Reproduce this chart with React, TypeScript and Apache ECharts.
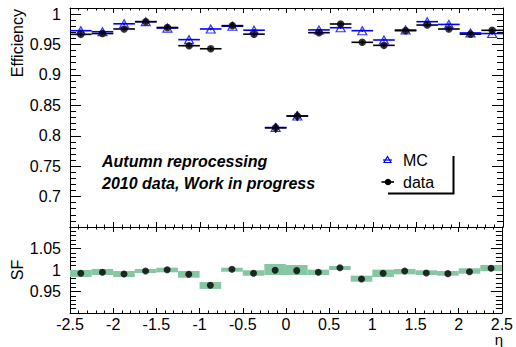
import React, { useEffect, useRef } from "react";
import * as echarts from "echarts";

// ---- data ----
const etaCenters = [-2.375, -2.125, -1.875, -1.625, -1.375, -1.125, -0.875, -0.625, -0.375, -0.125, 0.125, 0.375, 0.625, 0.875, 1.125, 1.375, 1.625, 1.875, 2.125, 2.375];
const binHalfWidth = 0.125;
const mcEff = [0.9727, 0.971, 0.984, 0.9875, 0.977, 0.958, 0.9755, 0.98, 0.9735, 0.8135, 0.8325, 0.974, 0.9776, 0.9727, 0.9574, 0.9738, 0.9875, 0.983, 0.969, 0.968];
const mcErr = [0.002, 0.002, 0.002, 0.002, 0.002, 0.002, 0.002, 0.002, 0.002, 0.006, 0.006, 0.002, 0.002, 0.002, 0.002, 0.002, 0.002, 0.002, 0.002, 0.002];
const dataEff = [0.9667, 0.968, 0.9755, 0.9875, 0.978, 0.948, 0.943, 0.981, 0.967, 0.813, 0.8324, 0.9694, 0.9837, 0.9536, 0.9486, 0.9727, 0.982, 0.9755, 0.967, 0.9733];
const dataErr = [0.003, 0.003, 0.003, 0.003, 0.003, 0.003, 0.003, 0.003, 0.003, 0.008, 0.008, 0.003, 0.003, 0.003, 0.003, 0.003, 0.003, 0.003, 0.003, 0.003];
const sfValues = [0.9923, 0.9946, 0.9907, 0.9977, 1.0007, 0.99, 0.9644, 1.0016, 0.9923, 0.9993, 0.9985, 0.9946, 1.0054, 0.979, 0.9923, 0.9977, 0.993, 0.9915, 0.996, 1.004];
const sfBandLow = [0.9837, 0.9884, 0.9837, 0.993, 0.9946, 0.982, 0.956, 0.996, 0.9867, 0.9884, 0.9884, 0.9884, 1.0, 0.9728, 0.9837, 0.99, 0.9884, 0.9868, 0.9914, 0.9977];
const sfBandHigh = [1.0, 1.0023, 0.9977, 1.0023, 1.0054, 0.9977, 0.972, 1.0054, 0.9993, 1.014, 1.0116, 1.0008, 1.0093, 0.9868, 1.0008, 1.0023, 0.9993, 0.9977, 1.004, 1.0116];
const effTickLabels = [0.7, 0.75, 0.8, 0.85, 0.9, 0.95, 1];
const sfTickLabels = [0.95, 1, 1.05];

const FONT = '"Liberation Sans", Arial, Helvetica, sans-serif';
const BLUE = "#0000ff";
const GREEN = "#86c6a3";

const axisLine = { show: true, onZero: false, lineStyle: { color: "#000", width: 1 } };

function xAxisDef(gridIndex: number, position: string, showLabels: boolean) {
  return {
    type: "value",
    gridIndex,
    position,
    min: -2.5,
    max: 2.5,
    interval: 0.5,
    axisLine,
    axisTick: { show: true, inside: true, length: 5, lineStyle: { color: "#000" } },
    minorTick: { show: true, splitNumber: 5, length: 2.5, lineStyle: { color: "#000" } },
    axisLabel: { show: showLabels, margin: 3, color: "#000", fontSize: 16, fontFamily: FONT },
    splitLine: { show: false },
    minorSplitLine: { show: false },
  };
}

function effMajor(position: string, showLabels: boolean) {
  return {
    type: "value",
    gridIndex: 0,
    position,
    min: 0.65,
    max: 1.01,
    axisLine,
    axisTick: { show: true, inside: true, length: 11, customValues: effTickLabels, lineStyle: { color: "#000" } },
    axisLabel: { show: showLabels, customValues: effTickLabels, margin: 9, color: "#000", fontSize: 16, fontFamily: FONT },
    splitLine: { show: false },
  };
}

function effMinor(position: string) {
  return {
    type: "value",
    gridIndex: 0,
    position,
    min: 0.65,
    max: 1.01,
    interval: 0.01,
    axisLine: { show: false, onZero: false },
    axisTick: { show: true, inside: true, length: 6, lineStyle: { color: "#000" } },
    axisLabel: { show: false },
    splitLine: { show: false },
  };
}

function sfAxis(position: string, showLabels: boolean) {
  return {
    type: "value",
    gridIndex: 1,
    position,
    min: 0.9,
    max: 1.1,
    interval: 0.05,
    axisLine,
    axisTick: { show: true, inside: true, length: 11, lineStyle: { color: "#000" } },
    minorTick: { show: true, splitNumber: 5, length: 6, lineStyle: { color: "#000" } },
    axisLabel: { show: showLabels, customValues: sfTickLabels, margin: 9, color: "#000", fontSize: 16, fontFamily: FONT },
    splitLine: { show: false },
    minorSplitLine: { show: false },
  };
}

function errBars(name: string, vals: number[], errs: number[], color: string, xi: number, yi: number) {
  return {
    type: "custom",
    name,
    xAxisIndex: xi,
    yAxisIndex: yi,
    data: etaCenters.map((x, i) => [x, vals[i], errs[i]]),
    encode: { x: 0, y: 1 },
    renderItem: (_p: any, api: any) => {
      const x = api.value(0);
      const y = api.value(1);
      const e = api.value(2);
      const a = api.coord([x - binHalfWidth, y]);
      const b = api.coord([x + binHalfWidth, y]);
      const c = api.coord([x, y + e]);
      const d = api.coord([x, y - e]);
      return {
        type: "group",
        children: [
          { type: "line", shape: { x1: a[0], y1: a[1], x2: b[0], y2: b[1] }, style: { stroke: color, lineWidth: 1.6 } },
          { type: "line", shape: { x1: c[0], y1: c[1], x2: d[0], y2: d[1] }, style: { stroke: color, lineWidth: 1.6 } },
        ],
      };
    },
  };
}

export default function App() {
  const ref = useRef<HTMLDivElement>(null);
  useEffect(() => {
    if (!ref.current) return;
    const chart = echarts.init(ref.current, undefined, { renderer: "svg" });
    const option: any = {
      animation: false,
      backgroundColor: "#fff",
      grid: [
        { left: 70, top: 8, width: 433, height: 219, containLabel: false },
        { left: 70, top: 227, width: 433, height: 86, containLabel: false },
      ],
      xAxis: [
        xAxisDef(0, "bottom", false),
        xAxisDef(0, "top", false),
        xAxisDef(1, "bottom", true),
        xAxisDef(1, "top", false),
      ],
      yAxis: [
        effMajor("left", true),
        effMinor("left"),
        effMajor("right", false),
        effMinor("right"),
        sfAxis("left", true),
        sfAxis("right", false),
      ],
      series: [
        {
          type: "custom",
          name: "SF band",
          xAxisIndex: 2,
          yAxisIndex: 4,
          data: etaCenters.map((x, i) => [x, sfBandLow[i], sfBandHigh[i]]),
          encode: { x: 0, y: [1, 2] },
          renderItem: (_p: any, api: any) => {
            const x = api.value(0);
            const lo = api.value(1);
            const hi = api.value(2);
            const p0 = api.coord([x - binHalfWidth, hi]);
            const p1 = api.coord([x + binHalfWidth, lo]);
            return {
              type: "rect",
              shape: { x: p0[0], y: p0[1], width: p1[0] - p0[0], height: p1[1] - p0[1] },
              style: { fill: GREEN },
            };
          },
        },
        errBars("MC err", mcEff, mcErr, BLUE, 0, 0),
        {
          type: "scatter",
          name: "MC",
          xAxisIndex: 0,
          yAxisIndex: 0,
          symbol: "triangle",
          symbolSize: [9, 8],
          itemStyle: { color: "rgba(255,255,255,0)", borderColor: BLUE, borderWidth: 1.2 },
          data: etaCenters.map((x, i) => [x, mcEff[i]]),
        },
        errBars("data err", dataEff, dataErr, "#000", 0, 0),
        {
          type: "scatter",
          name: "data",
          xAxisIndex: 0,
          yAxisIndex: 0,
          symbol: "circle",
          symbolSize: 7.5,
          itemStyle: { color: "#000" },
          data: etaCenters.map((x, i) => [x, dataEff[i]]),
        },
        {
          type: "scatter",
          name: "SF",
          xAxisIndex: 2,
          yAxisIndex: 4,
          symbol: "circle",
          symbolSize: 7,
          itemStyle: { color: "#000" },
          data: etaCenters.map((x, i) => [x, sfValues[i]]),
        },
      ],
      graphic: [
        {
          type: "text",
          x: 17,
          y: 9,
          rotation: Math.PI / 2,
          style: { text: "Efficiency", fill: "#000", fontSize: 16, fontFamily: FONT, align: "right", verticalAlign: "middle" },
        },
        {
          type: "text",
          x: 17,
          y: 270,
          rotation: Math.PI / 2,
          style: { text: "SF", fill: "#000", fontSize: 16, fontFamily: FONT, align: "center", verticalAlign: "middle" },
        },
        {
          type: "text",
          x: 503,
          y: 347,
          style: { text: "η", fill: "#000", fontSize: 15, fontFamily: FONT, align: "right", verticalAlign: "bottom" },
        },
        {
          type: "text",
          x: 102,
          y: 161,
          style: { text: "Autumn reprocessing", fill: "#000", fontSize: 16, fontWeight: "bold", fontStyle: "italic", fontFamily: FONT, align: "left", verticalAlign: "middle" },
        },
        {
          type: "text",
          x: 102,
          y: 183,
          style: { text: "2010 data, Work in progress", fill: "#000", fontSize: 16, fontWeight: "bold", fontStyle: "italic", fontFamily: FONT, align: "left", verticalAlign: "middle" },
        },
        // legend
        { type: "line", shape: { x1: 383, y1: 160, x2: 392, y2: 160 }, style: { stroke: BLUE, lineWidth: 1.2 } },
        { type: "polygon", shape: { points: [[387.5, 156.5], [391, 162.5], [384, 162.5]] }, style: { fill: "none", stroke: BLUE, lineWidth: 1.2 } },
        { type: "text", x: 403, y: 160, style: { text: "MC", fill: "#000", fontSize: 16, fontFamily: FONT, align: "left", verticalAlign: "middle" } },
        { type: "line", shape: { x1: 381.5, y1: 182, x2: 394, y2: 182 }, style: { stroke: "#000", lineWidth: 1.6 } },
        { type: "circle", shape: { cx: 388, cy: 182, r: 3.3 }, style: { fill: "#000" } },
        { type: "text", x: 403, y: 182, style: { text: "data", fill: "#000", fontSize: 16, fontFamily: FONT, align: "left", verticalAlign: "middle" } },
        { type: "polyline", shape: { points: [[388, 193.5], [453.5, 193.5], [453.5, 156]] }, style: { stroke: "#000", lineWidth: 2, fill: "none" } },
      ],
    };
    chart.setOption(option);
    return () => chart.dispose();
  }, []);
  return <div ref={ref} style={{ position: "fixed", left: 0, top: 0, width: 516, height: 347 }} />;
}
